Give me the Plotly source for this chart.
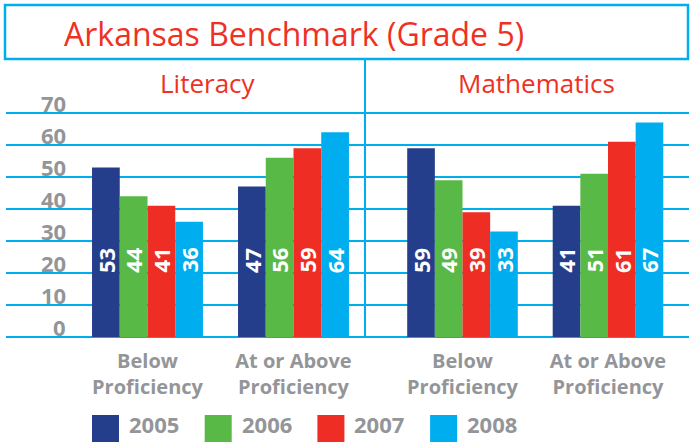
import plotly.graph_objects as go

# ---- data ----
years = ["2005", "2006", "2007", "2008"]
categories = ["Below<br>Proficiency", "At or Above<br>Proficiency"]
literacy = {
    "2005": [53, 47],
    "2006": [44, 56],
    "2007": [41, 59],
    "2008": [36, 64],
}
mathematics = {
    "2005": [59, 41],
    "2006": [49, 51],
    "2007": [39, 61],
    "2008": [33, 67],
}
y_ticks = [0, 10, 20, 30, 40, 50, 60, 70]
title_text = "Arkansas Benchmark (Grade 5)"
panel_titles = ["Literacy", "Mathematics"]

# ---- style ----
colors = ["#253e8c", "#58b947", "#ee2e24", "#00aeef"]
CYAN = "#00aeef"
RED = "#ee3124"
GREY = "#939598"
FONT = "Open Sans"
W, H = 690, 443


def px(x):
    return x / W


def py(y):
    return 1 - y / H


# y axis: 0 at 337px, 70 at 113px
ppu = (337 - 113) / 70.0
yr = [-2, 72]
y_dom = [py(337 + 2 * ppu), py(113 - 2 * ppu)]

bargap = 0.24
dom1 = [px(74.5), px(366.5)]
dom2 = [px(389.75), px(680.75)]
cat_w_px = 146.0
bar_w_px = cat_w_px * (1 - bargap) / len(years)
label_y = 24

fig = go.Figure()
for i, yv in enumerate(years):
    fig.add_trace(go.Bar(x=categories, y=literacy[yv], name=yv, marker_color=colors[i],
                         marker_line_width=0, xaxis="x", yaxis="y", showlegend=False,
                         offsetgroup=str(i)))
    fig.add_trace(go.Bar(x=categories, y=mathematics[yv], name=yv, marker_color=colors[i],
                         marker_line_width=0, xaxis="x2", yaxis="y", showlegend=False,
                         offsetgroup=str(i)))

shapes = []
annotations = []
# gridlines + y tick labels
for t in y_ticks:
    shapes.append(dict(type="line", xref="paper", yref="y", x0=px(6), x1=px(689), y0=t, y1=t,
                       line=dict(color=CYAN, width=2), layer="below"))
    annotations.append(dict(text=str(t), xref="paper", yref="y", x=px(68), y=t, yshift=10,
                            xanchor="right", yanchor="middle", showarrow=False,
                            font=dict(family=FONT, size=22, color=GREY, weight="bold")))
# divider
shapes.append(dict(type="line", xref="paper", yref="paper", x0=px(365), x1=px(365),
                   y0=py(337), y1=py(59), line=dict(color=CYAN, width=2)))
# title box
shapes.append(dict(type="rect", xref="paper", yref="paper", x0=px(5), x1=px(688),
                   y0=py(59), y1=py(5), line=dict(color=CYAN, width=2.5), fillcolor="rgba(0,0,0,0)"))

annotations.append(dict(text=title_text, xref="paper", yref="paper", x=px(62), y=py(33),
                        xanchor="left", yanchor="middle", showarrow=False,
                        font=dict(family=FONT, size=32, color=RED)))
for name, cx in zip(panel_titles, [207.5, 536]):
    annotations.append(dict(text=name, xref="paper", yref="paper", x=px(cx), y=py(83),
                            xanchor="center", yanchor="middle", showarrow=False,
                            font=dict(family=FONT, size=26, color=RED)))

# value labels
for xa, data in [("x", literacy), ("x2", mathematics)]:
    for i, yv in enumerate(years):
        for c, v in zip(categories, data[yv]):
            annotations.append(dict(text=str(v), xref=xa, yref="y", x=c, y=label_y,
                                    xshift=(i - 1.5) * bar_w_px, textangle=-90,
                                    showarrow=False, xanchor="center", yanchor="middle",
                                    font=dict(family=FONT, size=22, color="white", weight="bold")))

# legend
for i, yv in enumerate(years):
    x0 = 92 + 112.7 * i
    shapes.append(dict(type="rect", xref="paper", yref="paper", x0=px(x0), x1=px(x0 + 27),
                       y0=py(442), y1=py(415), fillcolor=colors[i], line=dict(width=0)))
    annotations.append(dict(text=yv, xref="paper", yref="paper", x=px(x0 + 35), y=py(424),
                            xanchor="left", yanchor="middle", showarrow=False,
                            font=dict(family=FONT, size=22, color=GREY, weight="bold")))

tickfont = dict(family=FONT, size=20, color=GREY, weight="bold")
fig.update_layout(
    width=W, height=H,
    margin=dict(l=0, r=0, t=0, b=0, pad=0, autoexpand=False),
    paper_bgcolor="white", plot_bgcolor="rgba(0,0,0,0)",
    barmode="group", bargap=bargap, bargroupgap=0,
    showlegend=False,
    shapes=shapes, annotations=annotations,
    xaxis=dict(domain=dom1, anchor="y", type="category", range=[-0.5, 1.5], automargin=False,
               showgrid=False, showline=False, zeroline=False, ticks="",
               tickfont=tickfont, ticklabelstandoff=4),
    xaxis2=dict(domain=dom2, anchor="y", type="category", range=[-0.5, 1.5], automargin=False,
                showgrid=False, showline=False, zeroline=False, ticks="",
                tickfont=tickfont, ticklabelstandoff=4),
    yaxis=dict(domain=y_dom, range=yr, tickvals=y_ticks, showgrid=False, zeroline=False,
               automargin=False, showline=False, ticks="", showticklabels=False),
)

fig.write_html("out.html", config={"displayModeBar": False},
               post_script="document.body.style.margin='0';")
